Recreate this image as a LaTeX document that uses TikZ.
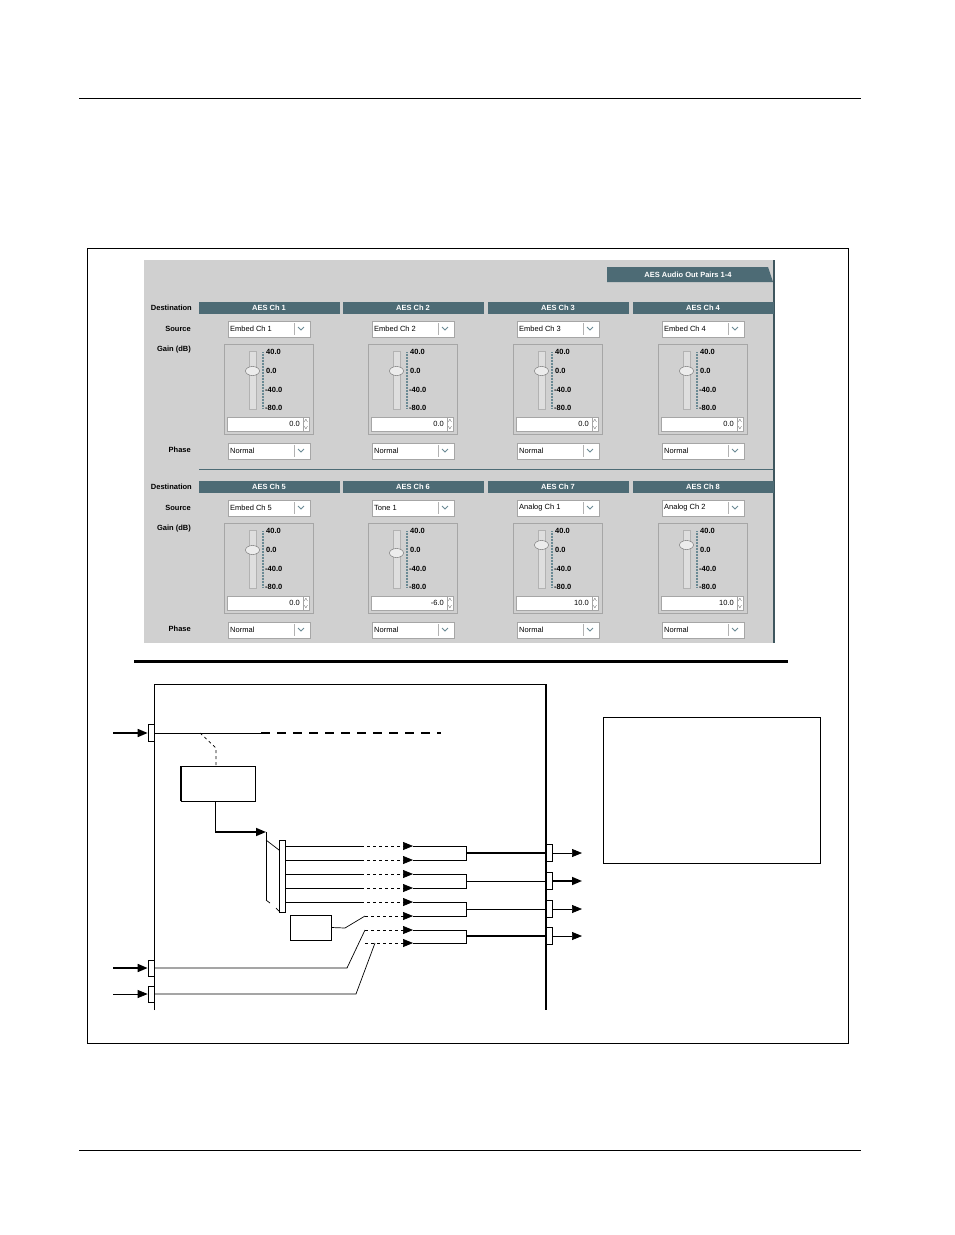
\documentclass[tikz,border=0pt]{standalone}
\usepackage{fontspec}
\setmainfont{Liberation Sans}
\usetikzlibrary{arrows.meta}
\definecolor{hdr}{HTML}{4D6B75}
\definecolor{panel}{HTML}{D0D0D0}
\definecolor{tick}{HTML}{6A8A94}
\tikzset{
 gl/.style={font=\fontsize{7.5}{8}\selectfont\bfseries,inner sep=0pt},
 gt/.style={font=\fontsize{7.5}{8}\selectfont,inner sep=0pt},
 fld/.style={fill=white,draw=gray!70,line width=0.5pt},
 wire/.style={line width=0.7pt},
 thick wire/.style={line width=1.6pt},
 arr/.style={-{Triangle[length=10pt,width=8pt]}},
 port/.style={draw,fill=white,line width=0.7pt},
}
\newcommand\chan[6]{%
 \fill[hdr] (#1,#2) rectangle (#1+141,#2+12);
 \node[gl,text=white] at (#1+70,#2+6) {#3};
 \draw[fld] (#1+29,#2+19) rectangle (#1+111,#2+35);
 \node[gt,anchor=west] at (#1+31,#2+27) {#4};
 \draw[gray!60] (#1+95,#2+21) -- (#1+95,#2+33);
 \draw[tick,line width=1pt] (#1+99,#2+25) -- (#1+102,#2+28) -- (#1+105,#2+25);
 \draw[gray!70,fill=panel] (#1+25,#2+42) rectangle (#1+114,#2+132);
 \draw[gray!60,fill=panel!70!white] (#1+50,#2+49) rectangle (#1+57,#2+107);
 \draw[gray!80!black,fill=gray!15] (#1+53.5,#2+69+#6) ellipse (7pt and 4.5pt);
 \draw[tick,line width=2pt,dash pattern=on 0.5pt off 1pt] (#1+64,#2+50) -- (#1+64,#2+106);
 \node[gl,anchor=west] at (#1+67,#2+50) {40.0};
 \node[gl,anchor=west] at (#1+67,#2+69) {0.0};
 \node[gl,anchor=west] at (#1+66,#2+88) {-40.0};
 \node[gl,anchor=west] at (#1+66,#2+106) {-80.0};
 \draw[fld] (#1+28,#2+115) rectangle (#1+104,#2+129);
 \node[gt,anchor=east] at (#1+101,#2+122) {#5};
 \draw[fld] (#1+104,#2+115) rectangle (#1+110,#2+129);
 \node[gt,font=\fontsize{4}{4}\selectfont] at (#1+107,#2+119) {$\wedge$};
 \node[gt,font=\fontsize{4}{4}\selectfont] at (#1+107,#2+126) {$\vee$};
 \draw[fld] (#1+29,#2+141) rectangle (#1+111,#2+157);
 \node[gt,anchor=west] at (#1+31,#2+149) {Normal};
 \draw[gray!60] (#1+95,#2+143) -- (#1+95,#2+155);
 \draw[tick,line width=1pt] (#1+99,#2+147) -- (#1+102,#2+150) -- (#1+105,#2+147);
}
\begin{document}
\begin{tikzpicture}[x=1pt,y=-1pt]
\useasboundingbox[fill=white] (0,0) rectangle (954,1235);
\draw[line width=0.8pt] (79,98) -- (861,98);
\draw[line width=0.8pt] (79,1150) -- (861,1150);
\draw[line width=1pt] (87,248) rectangle (848,1043);
% GUI panel
\fill[panel] (144,260) rectangle (775,643);
\fill[hdr!80!black] (773,260) rectangle (775,643);
\fill[hdr] (607,267) -- (768,267) -- (773,282) -- (607,282) -- cycle;
\node[gl,text=white] (title) at (688,274.5) {AES Audio Out Pairs 1-4};
\draw[hdr,line width=1pt] (199,469) -- (773,469);
\foreach \r in {0,179}{
 \node[gl,anchor=east] at (192,308+\r) {Destination};
 \node[gl,anchor=east] at (191,329+\r) {Source};
 \node[gl,anchor=east] at (191,350+\r) {Gain (dB)};
 \node[gl,anchor=east] at (191,450+\r) {Phase};
}
\chan{199}{302}{AES Ch 1}{Embed Ch 1}{0.0}{0}
\chan{343}{302}{AES Ch 2}{Embed Ch 2}{0.0}{0}
\chan{488}{302}{AES Ch 3}{Embed Ch 3}{0.0}{0}
\chan{633}{302}{AES Ch 4}{Embed Ch 4}{0.0}{0}
\chan{199}{481}{AES Ch 5}{Embed Ch 5}{0.0}{0}
\chan{343}{481}{AES Ch 6}{Tone 1}{-6.0}{3}
\chan{488}{481}{AES Ch 7}{Analog Ch 1}{10.0}{-5}
\chan{633}{481}{AES Ch 8}{Analog Ch 2}{10.0}{-5}
% separator
\draw[line width=3pt] (134,661) -- (788,661);
% lower diagram
\draw[wire] (154,1010) -- (154,684) -- (546,684);
\draw[line width=1.5pt] (546,684) -- (546,1010);
\draw[wire] (603,717) rectangle (820,863);
% input 1
\coordinate (i1) at (113,733);
\node[port,minimum width=6pt,minimum height=17pt,inner sep=0pt] (p1) at (151,733) {};
\draw[thick wire,arr] (i1) -- (p1.west);
\draw[wire] (p1.east) -- (261,733);
\draw[line width=1.5pt,dash pattern=on 9pt off 7pt] (261,733) -- (441,733);
\node[draw,line width=0.8pt,minimum width=74pt,minimum height=35pt,inner sep=0pt] (proc) at (218,783.5) {};
\draw[line width=1.5pt] (proc.south west) -- (proc.north west);
\draw[wire,dashed] (200,733) -- (216,748) -- (proc.north -| 216,0);
\coordinate (bus) at (266,832);
\draw[wire] (proc.south -| 215,0) -- (215,832);
\draw[thick wire,arr] (215,832) -- (bus);
\draw[wire] (266,832) -- (266,900);
\draw[wire] (266,840) -- (279,850);
\draw[wire] (266,900) -- (270,903);
\draw[wire] (276,908) -- (279,911);
\node[port,minimum width=6pt,minimum height=72pt,inner sep=0pt] (sel) at (282,876) {};
% channel lines
\foreach \y in {846,860,874,888,902}{
 \draw[wire] (285,\y) -- (361,\y);
 \draw[wire,dashed] (361,\y) -- (405,\y);
 \draw[wire,arr] (405,\y) -- (413,\y);
}
\foreach \y in {916,930,943}{
 \draw[wire,dashed] (365,\y) -- (405,\y);
 \draw[wire,arr] (405,\y) -- (413,\y);
}
\node[draw,line width=0.8pt,minimum width=41pt,minimum height=25pt,inner sep=0pt] (tone) at (310.5,927.5) {};
\draw[wire] (tone.east) -- (345,928) -- (365,916);
% inputs 2,3
\node[port,minimum width=6pt,minimum height=16pt,inner sep=0pt] (p2) at (151,968) {};
\node[port,minimum width=6pt,minimum height=16pt,inner sep=0pt] (p3) at (151,994) {};
\coordinate (i2) at (113,968);
\coordinate (i3) at (113,994);
\draw[thick wire,arr] (i2) -- (p2.west);
\draw[wire,arr] (i3) -- (p3.west);
\draw[wire] (p2.east) -- (347,968) -- (365,930);
\draw[wire] (p3.east) -- (356,994) -- (375,943);
% pair combiners and outputs
\foreach \a/\b/\m/\w [count=\i] in {846/860/853/1.6pt,874/888/881/0.7pt,902/916/909/0.7pt,930/943/936/1.6pt}{
 \draw[wire] (413,\a) -- (466,\a) -- (466,\b) -- (413,\b);
 \node[port,minimum width=6pt,minimum height=17pt,inner sep=0pt] (o\i) at (549,\m) {};
 \draw[line width=\w] (466,\m) -- (o\i.west);
 \coordinate (e\i) at (582,\m);
}
\draw[wire,arr] (o1.east) -- (e1);
\draw[thick wire,arr] (o2.east) -- (e2);
\draw[wire,arr] (o3.east) -- (e3);
\draw[wire,arr] (o4.east) -- (e4);
\end{tikzpicture}
\end{document}
